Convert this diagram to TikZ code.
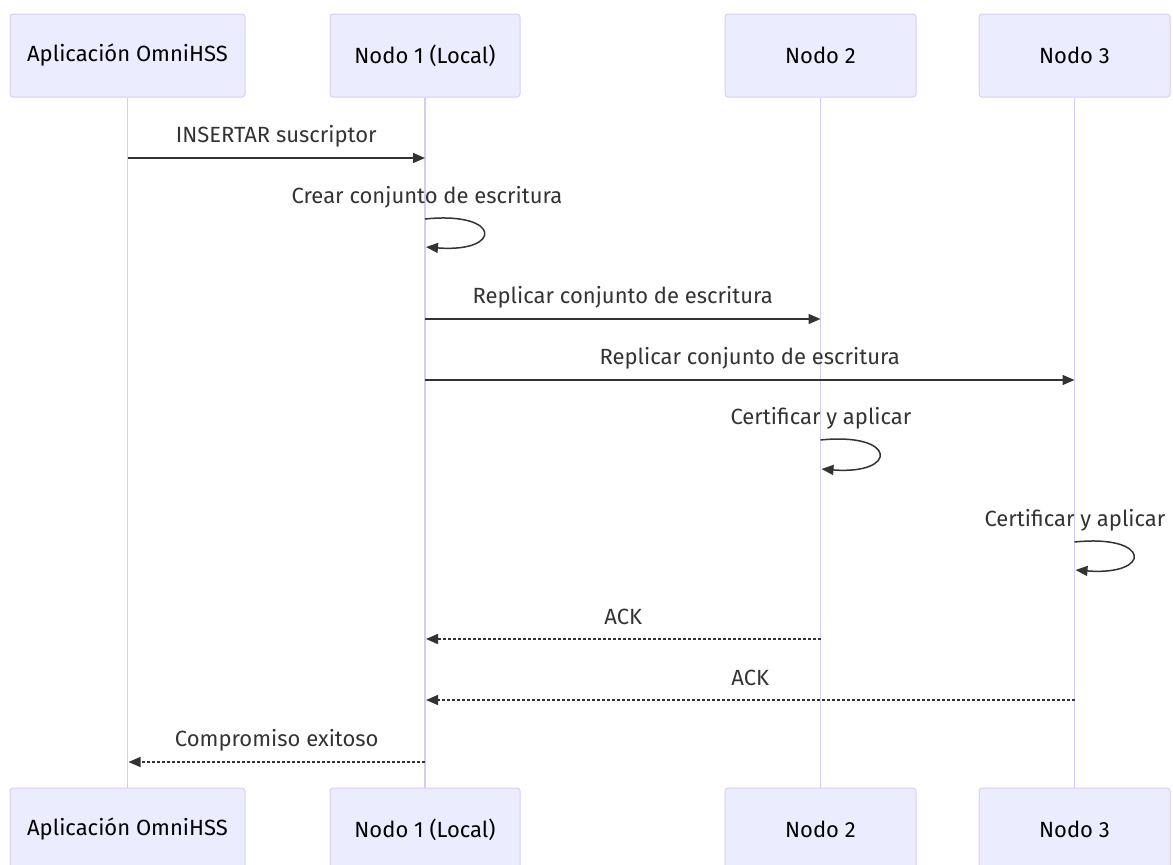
\documentclass[tikz,border=0pt]{standalone}
\usepackage{fontspec}
\setmainfont{Fira Sans}
\usetikzlibrary{arrows.meta,calc}
\definecolor{actfill}{HTML}{ECECFF}
\definecolor{actborder}{HTML}{D9CFF3}
\definecolor{lifecol}{HTML}{D6CBF5}
\definecolor{msgcol}{HTML}{333333}
\begin{document}
\begin{tikzpicture}[x=1pt,y=-1pt,
  actor/.style={draw=actborder,fill=actfill,line width=1pt,rounded corners=3pt,minimum height=83pt,inner sep=0pt,font=\fontsize{22}{26}\selectfont,text=black},
  life/.style={draw=lifecol,line width=1.5pt},
  msg/.style={draw=msgcol,line width=1.5pt,-{Triangle[length=12pt,width=10pt]}},
  reply/.style={msg,dash pattern=on 3pt off 2pt},
  lbl/.style={font=\fontsize{22}{26}\selectfont,text=msgcol,inner sep=0pt},
  mlbl/.style={lbl,midway,yshift=22pt}]
\useasboundingbox (0,0) rectangle (1173,865);
% actors top
\node[actor,minimum width=235pt] (a1) at (127.5,55.5) {Aplicación OmniHSS};
\node[actor,minimum width=190pt] (b1) at (425,55.5) {Nodo 1 (Local)};
\node[actor,minimum width=191pt] (c1) at (820.5,55.5) {Nodo 2};
\node[actor,minimum width=191pt] (d1) at (1074.5,55.5) {Nodo 3};
% actors bottom
\node[actor,minimum width=235pt] (a2) at (127.5,829.5) {Aplicación OmniHSS};
\node[actor,minimum width=190pt] (b2) at (425,829.5) {Nodo 1 (Local)};
\node[actor,minimum width=191pt] (c2) at (820.5,829.5) {Nodo 2};
\node[actor,minimum width=191pt] (d2) at (1074.5,829.5) {Nodo 3};
% lifelines
\draw[life] (a1.south) -- (a2.north);
\draw[life] (b1.south) -- (b2.north);
\draw[life] (c1.south) -- (c2.north);
\draw[life] (d1.south) -- (d2.north);
% message endpoints
\coordinate (m1s) at (127.5,158); \coordinate (m1e) at (425,158);
\coordinate (l2s) at (425,219); \coordinate (l2e) at (426,247);
\coordinate (m3s) at (425,319); \coordinate (m3e) at (820.5,319);
\coordinate (m4s) at (425,380); \coordinate (m4e) at (1074.5,380);
\coordinate (l5s) at (820.5,440); \coordinate (l5e) at (821.5,469);
\coordinate (l6s) at (1074.5,542); \coordinate (l6e) at (1075.5,570);
\coordinate (m7s) at (820.5,639); \coordinate (m7e) at (426,639);
\coordinate (m8s) at (1074.5,700); \coordinate (m8e) at (426,700);
\coordinate (m9s) at (425,762); \coordinate (m9e) at (128.5,762);
% messages
\draw[msg] (m1s) -- node[mlbl] (t1) {INSERTAR suscriptor} (m1e);
\node[lbl] (t2) at (427,197) {Crear conjunto de escritura};
\draw[msg] (l2s) .. controls ($(l2s)+(77,-8)$) and ($(l2e)+(77,6)$) .. (l2e);
\draw[msg] (m3s) -- node[mlbl] (t3) {Replicar conjunto de escritura} (m3e);
\draw[msg] (m4s) -- node[mlbl] (t4) {Replicar conjunto de escritura} (m4e);
\node[lbl] (t5) at (821,418) {Certificar y aplicar};
\draw[msg] (l5s) .. controls ($(l5s)+(77,-8)$) and ($(l5e)+(77,6)$) .. (l5e);
\node[lbl] (t6) at (1075,520) {Certificar y aplicar};
\draw[msg] (l6s) .. controls ($(l6s)+(77,-8)$) and ($(l6e)+(77,6)$) .. (l6e);
\draw[reply] (m7s) -- node[mlbl] (t7) {ACK} (m7e);
\draw[reply] (m8s) -- node[mlbl] (t8) {ACK} (m8e);
\draw[reply] (m9s) -- node[mlbl] (t9) {Compromiso exitoso} (m9e);
\end{tikzpicture}
\end{document}
